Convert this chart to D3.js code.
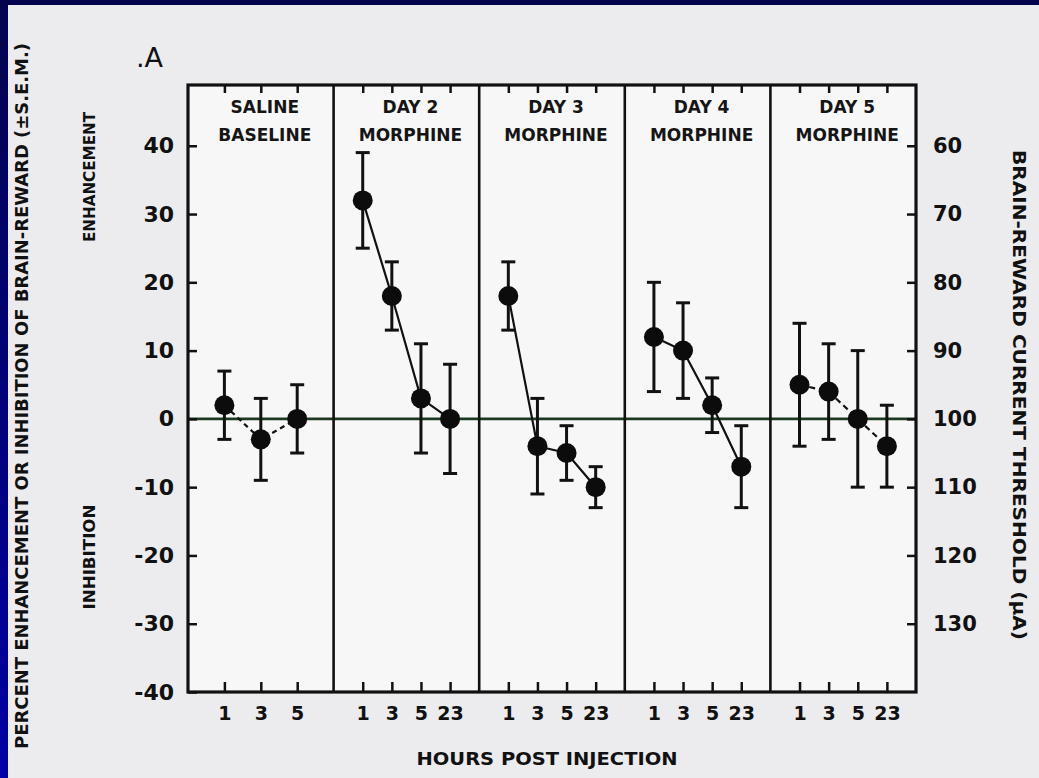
<!DOCTYPE html>
<meta charset="utf-8">
<body style="margin:0;background:#000080">
<script src="https://d3js.org/d3.v7.min.js"></script>
<div id="my_dataviz"></div>
</body>
<script>

// Data
var panelTop = ["SALINE", "DAY 2", "DAY 3", "DAY 4", "DAY 5"]
var panelBottom = ["BASELINE", "MORPHINE", "MORPHINE", "MORPHINE", "MORPHINE"]
var salineHours = ["1", "3", "5"]
var dayHours = ["1", "3", "5", "23"]

var saline = [2, -3, 0], salineHi = [7, 3, 5], salineLo = [-3, -9, -5]
var day2 = [32, 18, 3, 0], day2Hi = [39, 23, 11, 8], day2Lo = [25, 13, -5, -8]
var day3 = [18, -4, -5, -10], day3Hi = [23, 3, -1, -7], day3Lo = [13, -11, -9, -13]
var day4 = [12, 10, 2, -7], day4Hi = [20, 17, 6, -1], day4Lo = [4, 3, -2, -13]
var day5 = [5, 4, 0, -4], day5Hi = [14, 11, 10, 2], day5Lo = [-4, -3, -10, -10]

var leftTicks = [40, 30, 20, 10, 0, -10, -20, -30, -40]
var rightTicks = [60, 70, 80, 90, 100, 110, 120, 130]

var W = 1039, H = 778
var margin = {top: 85, right: 123, bottom: 86, left: 188},
    width = W - margin.left - margin.right,
    height = H - margin.top - margin.bottom

var FONT = "'DejaVu Sans', sans-serif"

var root = d3.select("#my_dataviz")
  .append("svg")
    .attr("width", W)
    .attr("height", H)
    .style("display", "block")

// blue slide frame + light paper
var defs = root.append("defs")
var grad = defs.append("linearGradient").attr("id", "blue").attr("x1", 0).attr("y1", 0).attr("x2", 0).attr("y2", 1)
grad.append("stop").attr("offset", "0%").attr("stop-color", "#04044e")
grad.append("stop").attr("offset", "100%").attr("stop-color", "#0000a6")
root.append("rect").attr("width", W).attr("height", H).attr("fill", "url(#blue)")
root.append("rect").attr("x", 8).attr("y", 5).attr("width", W - 8).attr("height", H - 5).attr("fill", "#ececee")

var svg = root.append("g")
    .attr("transform", "translate(" + margin.left + "," + margin.top + ")")

svg.append("rect").attr("width", width).attr("height", height).attr("fill", "#f7f7f7")

// scales
var y = d3.scaleLinear().domain([-40, 48.9]).range([height, 0])
var yR = d3.scaleLinear().domain([140, 51.1]).range([height, 0])
var panelX = d3.scaleBand().domain(panelTop).range([0, width])

var series = [
  {hours: salineHours, v: saline, hi: salineHi, lo: salineLo, dash: "5,4"},
  {hours: dayHours, v: day2, hi: day2Hi, lo: day2Lo, dash: null},
  {hours: dayHours, v: day3, hi: day3Hi, lo: day3Lo, dash: null},
  {hours: dayHours, v: day4, hi: day4Hi, lo: day4Lo, dash: null},
  {hours: dayHours, v: day5, hi: day5Hi, lo: day5Lo, dash: "6,4"}
]

// zero line
svg.append("line")
  .attr("x1", 0).attr("x2", width)
  .attr("y1", y(0)).attr("y2", y(0))
  .attr("stroke", "#1c3a22").attr("stroke-width", 2.6)

var plain = function(d) { return String(d) }

// left axis (ticks inward)
svg.append("g")
  .call(d3.axisLeft(y).tickValues(leftTicks).tickFormat(plain).tickSize(-9).tickPadding(14))
  .call(function(g) { g.select(".domain").remove() })
  .call(function(g) { g.selectAll("line").attr("stroke", "#111").attr("stroke-width", 2.5) })
  .call(function(g) { g.selectAll("text").style("font-family", FONT).style("font-weight", "bold").style("font-size", "22px").attr("fill", "#111") })

// right axis (ticks inward)
svg.append("g")
  .attr("transform", "translate(" + width + ",0)")
  .call(d3.axisRight(yR).tickValues(rightTicks).tickFormat(plain).tickSize(-9).tickPadding(17))
  .call(function(g) { g.select(".domain").remove() })
  .call(function(g) { g.selectAll("line").attr("stroke", "#111").attr("stroke-width", 2.5) })
  .call(function(g) { g.selectAll("text").style("font-family", FONT).style("font-weight", "bold").style("font-size", "21px").attr("fill", "#111") })

// panels
series.forEach(function(s, i) {
  var x0 = panelX(panelTop[i])
  var x = d3.scalePoint().domain(s.hours).range([0, panelX.bandwidth()]).padding(1)
  var g = svg.append("g").attr("transform", "translate(" + x0 + ",0)")

  g.append("g")
    .attr("transform", "translate(0," + height + ")")
    .call(d3.axisBottom(x).tickSize(-10).tickPadding(15))
    .call(function(a) { a.select(".domain").remove() })
    .call(function(a) { a.selectAll("line").attr("stroke", "#111").attr("stroke-width", 2.5) })
    .call(function(a) { a.selectAll("text").style("font-family", FONT).style("font-weight", "bold").style("font-size", "19px").attr("fill", "#111") })

  g.append("g")
    .call(d3.axisTop(x).tickSize(-8).tickFormat(""))
    .call(function(a) { a.select(".domain").remove() })
    .call(function(a) { a.selectAll("line").attr("stroke", "#111").attr("stroke-width", 2.5) })

  // panel titles
  g.append("text")
    .attr("x", panelX.bandwidth() / 2 + 4).attr("y", 28)
    .attr("text-anchor", "middle")
    .style("font-family", FONT).style("font-weight", "bold").style("font-size", "17px")
    .attr("fill", "#151515")
    .text(panelTop[i])
  g.append("text")
    .attr("x", panelX.bandwidth() / 2 + 4).attr("y", 56)
    .attr("text-anchor", "middle")
    .style("font-family", FONT).style("font-weight", "bold").style("font-size", "17px")
    .attr("fill", "#151515")
    .text(panelBottom[i])

  var pts = s.hours.map(function(h, j) { return {h: h, v: s.v[j], hi: s.hi[j], lo: s.lo[j]} })

  // connecting line
  g.append("path")
    .datum(pts)
    .attr("fill", "none")
    .attr("stroke", "#111")
    .attr("stroke-width", 2.2)
    .attr("stroke-dasharray", s.dash)
    .attr("d", d3.line().x(function(d) { return x(d.h) }).y(function(d) { return y(d.v) }))

  // error bars
  var eb = g.selectAll(".eb" + i).data(pts).join("g")
  eb.append("line")
    .attr("x1", function(d) { return x(d.h) }).attr("x2", function(d) { return x(d.h) })
    .attr("y1", function(d) { return y(d.hi) }).attr("y2", function(d) { return y(d.lo) })
    .attr("stroke", "#111").attr("stroke-width", 3)
  eb.append("line")
    .attr("x1", function(d) { return x(d.h) - 7 }).attr("x2", function(d) { return x(d.h) + 7 })
    .attr("y1", function(d) { return y(d.hi) }).attr("y2", function(d) { return y(d.hi) })
    .attr("stroke", "#111").attr("stroke-width", 3)
  eb.append("line")
    .attr("x1", function(d) { return x(d.h) - 7 }).attr("x2", function(d) { return x(d.h) + 7 })
    .attr("y1", function(d) { return y(d.lo) }).attr("y2", function(d) { return y(d.lo) })
    .attr("stroke", "#111").attr("stroke-width", 3)

  // markers
  g.selectAll(".pt" + i).data(pts).join("circle")
    .attr("cx", function(d) { return x(d.h) })
    .attr("cy", function(d) { return y(d.v) })
    .attr("r", 10)
    .attr("fill", "#0c0c0c")
})

// panel dividers
svg.selectAll(".div").data(panelTop.slice(1)).join("line")
  .attr("x1", function(d) { return panelX(d) }).attr("x2", function(d) { return panelX(d) })
  .attr("y1", 0).attr("y2", height)
  .attr("stroke", "#111").attr("stroke-width", 2.6)

// frame
svg.append("rect")
  .attr("width", width).attr("height", height)
  .attr("fill", "none").attr("stroke", "#111").attr("stroke-width", 3.2)

// titles
root.append("text")
  .attr("x", 136).attr("y", 67)
  .style("font-family", FONT).style("font-size", "27px")
  .attr("fill", "#111")
  .text(".A")

root.append("text")
  .attr("x", 547).attr("y", 765)
  .attr("text-anchor", "middle")
  .attr("textLength", 261).attr("lengthAdjust", "spacingAndGlyphs")
  .style("font-family", FONT).style("font-weight", "bold").style("font-size", "17px")
  .attr("fill", "#111")
  .text("HOURS POST INJECTION")

root.append("text")
  .attr("transform", "translate(28,396) rotate(-90)")
  .attr("text-anchor", "middle")
  .attr("textLength", 706).attr("lengthAdjust", "spacingAndGlyphs")
  .style("font-family", FONT).style("font-weight", "bold").style("font-size", "18px")
  .attr("fill", "#111")
  .text("PERCENT ENHANCEMENT OR INHIBITION OF BRAIN-REWARD (\u00b1S.E.M.)")

root.append("text")
  .attr("transform", "translate(95,177) rotate(-90)")
  .attr("text-anchor", "middle")
  .attr("textLength", 130).attr("lengthAdjust", "spacingAndGlyphs")
  .style("font-family", FONT).style("font-weight", "bold").style("font-size", "16px")
  .attr("fill", "#111")
  .text("ENHANCEMENT")

root.append("text")
  .attr("transform", "translate(95,557) rotate(-90)")
  .attr("text-anchor", "middle")
  .attr("textLength", 105).attr("lengthAdjust", "spacingAndGlyphs")
  .style("font-family", FONT).style("font-weight", "bold").style("font-size", "16px")
  .attr("fill", "#111")
  .text("INHIBITION")

root.append("text")
  .attr("transform", "translate(1013,395) rotate(90)")
  .attr("text-anchor", "middle")
  .attr("textLength", 490).attr("lengthAdjust", "spacingAndGlyphs")
  .style("font-family", FONT).style("font-weight", "bold").style("font-size", "17px")
  .attr("fill", "#111")
  .text("BRAIN-REWARD CURRENT THRESHOLD (\u03bcA)")

</script>
